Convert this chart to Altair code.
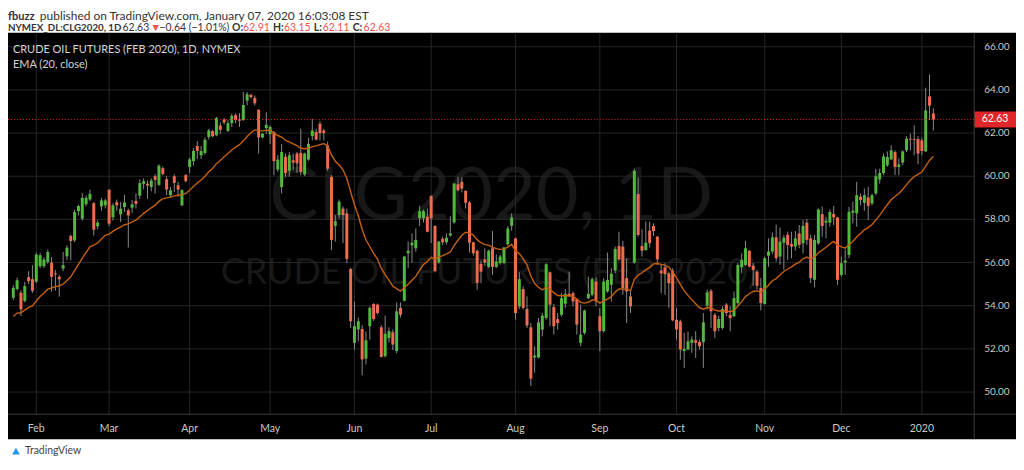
import altair as alt
import pandas as pd

# ---------------- data ----------------
OPEN = [54.37, 54.77, 54.60, 54.22, 55.32, 55.23,
        55.11, 55.83, 55.83, 56.03, 56.00, 55.50, 55.34, 55.72, 56.29, 57.23, 57.03, 58.38, 58.03, 58.70,
        58.92, 58.75, 57.68, 58.60, 58.65,
        59.37, 58.10, 58.80, 58.23, 58.57, 58.42, 58.54, 58.86, 59.10, 59.65, 59.65, 59.50, 60.00, 59.60,
        60.37, 59.86, 59.12, 60.00, 59.58, 58.65, 60.05,
        60.43, 60.70, 61.40, 60.97, 61.08, 61.82, 62.09, 61.90, 62.35, 62.63, 62.10, 62.46, 62.83, 62.63,
        62.60, 63.50, 63.77, 63.63, 63.08, 61.80, 62.23,
        61.95, 62.05, 60.31, 59.50, 60.90, 60.25, 60.74, 61.05, 61.08, 60.08, 60.77, 61.86, 62.05, 62.43,
        62.12, 61.43, 59.97, 57.70, 58.20, 58.50, 58.28, 55.70,
        52.28, 52.90, 52.92, 51.55, 53.05, 54.08, 54.05, 53.00, 51.66, 52.50, 52.77, 51.90, 53.90, 54.23,
        56.43, 56.80, 56.66, 58.05, 58.05, 58.12,
        59.08, 57.70, 56.00, 57.10, 56.94, 57.25, 57.86, 59.63, 59.74, 59.32, 58.78, 56.94, 56.55, 55.94,
        56.15, 55.80, 56.66, 55.80, 55.97, 55.97, 56.85, 57.70,
        57.12, 53.97, 54.77, 53.85, 53.00, 51.60, 51.60, 52.89, 53.43, 55.55, 53.94, 53.38, 53.58, 54.09,
        54.55, 54.58, 54.31, 52.28, 52.74, 54.35, 54.51, 55.12,
        53.51, 52.82, 54.66, 54.97, 55.63, 56.77, 56.74, 55.28, 54.43, 56.00, 59.17, 56.77, 56.58, 57.48,
        57.69, 57.20, 55.63, 55.78, 55.50, 55.63,
        53.35, 53.28, 51.90, 51.97, 52.28, 52.40, 52.32, 52.31, 54.00, 54.69, 53.58, 52.97, 52.97, 54.05,
        53.58, 53.51, 54.12, 55.78, 55.89, 56.54, 55.85, 55.58, 54.82,
        54.08, 56.32, 56.51, 57.17, 56.28, 56.92, 57.28, 56.86, 56.74, 57.35, 56.89, 57.85, 57.12, 55.20,
        56.89, 58.25, 57.85, 57.85, 58.25, 58.09,
        55.43, 56.00, 56.35, 58.31, 58.28, 59.05, 58.77, 59.02, 58.74, 59.20, 59.85, 60.15, 60.51, 60.78,
        61.12, 60.43, 60.63, 61.20, 61.74, 61.72, 61.72,
        61.66, 61.15, 63.70, 62.91]

HIGH = [54.95, 55.30, 54.70, 55.10, 55.60, 55.88,
        56.46, 56.45, 56.25, 56.60, 56.26, 55.65, 55.42, 56.49, 56.80, 57.30, 58.45, 58.68, 59.23, 59.10,
        59.38, 58.80, 57.95, 59.00, 58.95,
        59.40, 58.75, 58.92, 58.80, 59.14, 58.50, 58.90, 59.20, 59.85, 59.90, 59.80, 59.90, 60.10, 60.55,
        60.45, 60.00, 59.50, 60.09, 59.74, 59.40, 60.10,
        60.86, 61.30, 61.63, 61.40, 61.80, 62.20, 62.15, 62.75, 62.50, 62.70, 62.60, 62.90, 62.92, 62.92,
        63.90, 63.90, 63.82, 63.74, 63.10, 62.00, 62.97,
        62.35, 62.10, 60.97, 61.50, 61.05, 61.12, 61.05, 61.12, 62.20, 61.10, 61.78, 62.66, 62.20, 62.55,
        62.20, 61.60, 60.05, 58.20, 58.92, 58.60, 58.50, 55.75,
        54.20, 53.45, 53.10, 52.80, 53.97, 54.12, 54.10, 53.10, 53.54, 53.00, 52.90, 54.15, 54.15, 56.30,
        56.97, 57.35, 57.58, 58.63, 58.45, 58.50,
        59.12, 57.72, 57.00, 57.20, 57.35, 58.15, 59.68, 59.97, 59.95, 59.35, 58.85, 56.97, 56.60, 56.10,
        56.66, 56.60, 57.46, 56.37, 56.37, 56.72, 57.70, 58.28,
        57.15, 55.55, 54.90, 54.43, 53.20, 52.12, 53.43, 53.66, 55.97, 55.58, 54.09, 53.66, 54.58, 54.77,
        55.58, 54.66, 54.35, 54.05, 53.82, 55.35, 55.31, 55.31,
        53.90, 55.28, 56.46, 55.74, 56.74, 57.43, 57.00, 56.20, 54.74, 60.35, 59.94, 57.54, 57.90, 57.90,
        57.82, 57.23, 55.90, 55.97, 55.58, 55.74,
        53.90, 53.35, 52.74, 52.80, 52.58, 52.82, 52.43, 53.66, 54.74, 54.77, 53.66, 53.54, 53.97, 54.12,
        53.97, 54.66, 55.97, 56.43, 57.00, 56.58, 55.97, 55.66, 55.28,
        56.28, 57.12, 57.40, 57.75, 57.62, 57.28, 57.43, 57.43, 57.46, 57.74, 57.97, 58.02, 57.28, 57.28,
        58.51, 58.59, 58.12, 58.46, 58.62, 58.12,
        56.28, 56.60, 58.58, 58.82, 59.74, 59.20, 59.43, 59.51, 59.20, 60.35, 60.35, 61.05, 61.15, 61.43,
        61.20, 60.82, 61.20, 61.85, 61.97, 62.35, 61.85,
        61.78, 64.10, 64.72, 63.15]

LOW = [54.25, 54.70, 53.52, 54.15, 55.00, 54.60,
       55.05, 55.75, 55.75, 55.95, 54.65, 54.70, 54.42, 55.60, 56.10, 56.10, 56.95, 58.18, 57.95, 58.60,
       58.85, 57.25, 57.55, 58.40, 58.50,
       57.68, 57.95, 58.40, 57.88, 58.35, 56.70, 58.30, 58.50, 58.95, 59.40, 58.95, 59.30, 59.20, 59.55,
       60.05, 59.12, 59.00, 59.28, 59.05, 58.62, 59.72,
       60.15, 60.50, 60.80, 60.80, 61.00, 61.70, 61.80, 61.85, 61.95, 62.40, 62.05, 62.28, 62.45, 62.28,
       62.57, 63.28, 63.60, 63.28, 61.05, 61.75, 61.97,
       61.50, 60.05, 60.20, 59.20, 59.97, 59.97, 60.30, 60.15, 60.05, 60.00, 60.72, 61.66, 61.66, 61.66,
       61.66, 60.25, 56.58, 56.97, 58.05, 56.90, 55.97, 52.97,
       51.97, 52.35, 50.77, 51.28, 52.43, 53.30, 53.60, 51.60, 51.60, 52.30, 51.95, 51.80, 53.45, 54.20,
       55.74, 56.00, 56.50, 57.70, 57.85, 57.40,
       56.90, 55.55, 55.95, 56.80, 56.85, 57.20, 57.80, 59.30, 59.25, 58.50, 56.46, 56.32, 54.74, 55.05,
       55.85, 55.75, 55.43, 55.75, 55.90, 55.95, 56.75, 57.48,
       53.35, 53.85, 53.82, 52.97, 50.28, 50.90, 51.55, 52.58, 53.35, 53.05, 52.66, 52.89, 53.50, 53.90,
       54.45, 53.97, 52.66, 52.12, 52.66, 54.30, 54.43, 53.97,
       51.90, 52.75, 54.60, 54.20, 55.50, 56.10, 54.51, 53.20, 53.66, 55.95, 57.20, 56.28, 56.55, 56.70,
       57.23, 55.90, 54.58, 54.50, 53.90, 53.28,
       52.43, 51.50, 51.12, 51.95, 51.82, 51.58, 51.97, 51.12, 53.82, 52.97, 52.51, 52.82, 52.89, 53.51,
       52.82, 53.48, 54.05, 55.50, 55.85, 55.78, 54.92, 54.74, 53.78,
       54.05, 55.80, 56.40, 56.05, 55.90, 55.66, 56.12, 56.20, 56.55, 56.66, 56.43, 56.82, 55.05, 54.85,
       56.82, 57.20, 57.12, 57.66, 57.74, 54.97,
       55.35, 55.43, 56.20, 57.82, 57.66, 58.65, 58.40, 57.97, 58.66, 59.12, 59.66, 60.05, 60.43, 60.74,
       60.05, 60.05, 60.51, 61.12, 61.20, 60.97, 60.55,
       60.97, 61.12, 62.60, 62.11]

CLOSE = [54.83, 55.18, 53.83, 54.91, 55.14, 54.69,
         56.37, 56.34, 56.14, 56.49, 55.34, 55.45, 55.22, 55.88, 56.69, 57.00, 58.34, 58.62, 59.00, 59.00,
         59.18, 57.52, 57.85, 58.88, 58.88,
         57.80, 58.65, 58.65, 58.49, 58.78, 58.18, 58.70, 58.72, 59.68, 59.77, 59.57, 59.80, 59.83, 60.49,
         60.10, 59.38, 59.35, 59.69, 59.38, 59.35, 59.77,
         60.78, 61.17, 61.17, 61.17, 61.69, 62.12, 61.86, 62.70, 62.15, 62.49, 62.46, 62.80, 62.60, 62.57,
         63.30, 63.80, 63.66, 63.38, 61.80, 61.97, 62.38,
         62.28, 60.70, 60.77, 61.12, 60.15, 60.97, 60.63, 60.60, 60.20, 61.05, 61.50, 62.12, 61.70, 62.00,
         62.00, 60.35, 57.05, 57.92, 58.82, 58.20, 56.17, 53.28,
         53.05, 53.28, 51.51, 52.40, 53.90, 53.38, 53.66, 51.63, 52.70, 52.82, 52.20, 53.74, 53.58, 56.28,
         56.55, 56.92, 57.05, 58.38, 58.38, 57.43,
         58.05, 55.60, 56.97, 56.94, 57.15, 57.35, 59.66, 59.35, 59.43, 58.77, 56.92, 56.43, 55.05, 55.58,
         56.00, 56.55, 55.80, 56.05, 56.28, 56.70, 57.58, 58.09,
         53.66, 55.23, 53.90, 53.08, 50.62, 51.69, 53.23, 53.54, 55.92, 54.05, 53.05, 53.20, 54.35, 54.55,
         54.43, 54.20, 53.12, 52.66, 53.78, 54.55, 55.23, 54.20,
         52.82, 55.12, 55.20, 55.48, 56.63, 56.15, 54.82, 54.66, 53.97, 60.25, 57.28, 56.55, 56.92, 56.90,
         57.46, 56.15, 55.50, 55.46, 55.05, 53.32,
         52.90, 51.97, 52.00, 52.35, 52.43, 52.28, 52.12, 53.23, 54.62, 53.74, 52.82, 53.38, 53.85, 53.66,
         53.43, 54.35, 55.89, 56.12, 56.66, 55.81, 55.66, 54.92, 54.12,
         56.20, 56.51, 57.17, 56.20, 56.97, 57.15, 56.82, 56.74, 57.12, 56.82, 57.70, 57.05, 55.28, 57.05,
         58.46, 57.69, 57.94, 58.34, 58.09, 55.20,
         55.97, 56.09, 58.35, 58.40, 59.12, 58.90, 59.12, 58.63, 59.12, 60.00, 60.15, 60.92, 60.89, 61.20,
         60.43, 60.55, 61.15, 61.74, 61.70, 61.68, 61.05,
         61.17, 63.05, 63.27, 62.63]

MONTH_LABELS = ["Feb", "Mar", "Apr", "May", "Jun", "Jul", "Aug", "Sep", "Oct", "Nov", "Dec", "2020"]
MONTH_START = [6, 25, 46, 67, 89, 109, 131, 153, 173, 196, 216, 237]   # bar index of first session
PRICE_TICKS = [50, 52, 54, 56, 58, 60, 62, 64, 66]
EMA_LENGTH = 20
EMA_FIRST = 53.5        # EMA value at the first visible bar

# ---------------- derived ----------------
alpha = 2.0 / (EMA_LENGTH + 1)
ema = [EMA_FIRST]
for c in CLOSE[1:]:
    ema.append(ema[-1] + alpha * (c - ema[-1]))

n = len(CLOSE)
df = pd.DataFrame({
    "i": list(range(n)), "o": OPEN, "h": HIGH, "l": LOW, "c": CLOSE, "ema": ema,
    "up": [c >= o for o, c in zip(OPEN, CLOSE)],
})
last = CLOSE[-1]
prev = CLOSE[-2]
chg = last - prev
pct = chg / prev * 100

# ---------------- styling ----------------
FONT = "Lato"
UP = "#53b83e"
DOWN = "#ee6c50"
WICK = "#8a8a8a"
GRID = "#262626"
SEP = "#3a3a3a"
AXIS_TXT = "#c9c9c9"
PRICE_RED = "#e0262b"

W, H = 970, 382
spacing = 3.889
X0 = (8 - 8.3) / spacing
X1 = (978 - 8.3) / spacing
Y1 = 66 + 13 / 21.667
Y0 = 66 - (415 - 46) / 21.667

xs = alt.Scale(domain=[X0, X1], nice=False, zero=False)
ys = alt.Scale(domain=[Y0, Y1], nice=False, zero=False)

one = pd.DataFrame({"a": [0]})

panel = alt.Chart(one).mark_rect(color="#000000").encode(
    x=alt.value(0), x2=alt.value(1012), y=alt.value(-1), y2=alt.value(407))

wm1 = alt.Chart(one).mark_text(text="CLG2020, 1D", font=FONT, fontSize=74, color="#181818",
                               align="center", baseline="alphabetic").encode(
    x=alt.value(485), y=alt.value(187))
wm2 = alt.Chart(one).mark_text(text="CRUDE OIL FUTURES (FEB 2020)", font=FONT, fontSize=36,
                               color="#181818", align="center", baseline="alphabetic").encode(
    x=alt.value(483), y=alt.value(251))

grid_h = alt.Chart(pd.DataFrame({"p": PRICE_TICKS})).mark_rule(color=GRID, strokeWidth=1).encode(
    y=alt.Y("p:Q", scale=ys, axis=None), x=alt.value(0), x2=alt.value(W))
grid_v = alt.Chart(pd.DataFrame({"m": MONTH_START})).mark_rule(color=GRID, strokeWidth=1).encode(
    x=alt.X("m:Q", scale=xs, axis=None), y=alt.value(-1), y2=alt.value(H))

wicks = alt.Chart(df).mark_rule(color=WICK, strokeWidth=1).encode(
    x=alt.X("i:Q", scale=xs, axis=None),
    y=alt.Y("l:Q", scale=ys, axis=None),
    y2="h:Q")

bodies = alt.Chart(df).mark_bar(size=3).encode(
    x=alt.X("i:Q", scale=xs, axis=None),
    y=alt.Y("o:Q", scale=ys, axis=None),
    y2="c:Q",
    color=alt.condition("datum.up", alt.value(UP), alt.value(DOWN)))

ema_line = alt.Chart(df).mark_line(color="#c4600f", strokeWidth=1.4).encode(
    x=alt.X("i:Q", scale=xs, axis=None), y=alt.Y("ema:Q", scale=ys, axis=None))

pdf = pd.DataFrame({"p": [last]})
price_line = alt.Chart(pdf).mark_rule(color=PRICE_RED, strokeDash=[1, 2], strokeWidth=1).encode(
    y=alt.Y("p:Q", scale=ys, axis=None), x=alt.value(0), x2=alt.value(W))
price_box = alt.Chart(pdf).mark_rule(color=PRICE_RED, strokeWidth=16).encode(
    y=alt.Y("p:Q", scale=ys, axis=None), x=alt.value(W), x2=alt.value(1012))
price_txt = alt.Chart(pdf).mark_text(color="white", font=FONT, fontSize=10.5, align="center",
                                     baseline="middle").encode(
    y=alt.Y("p:Q", scale=ys, axis=None), x=alt.value(991), text=alt.Text("p:Q", format=".2f"))

# axis labels (through the scales)
month_lbl = alt.Chart(pd.DataFrame({"m": MONTH_START, "t": MONTH_LABELS})).mark_text(
    font=FONT, fontSize=10.5, color=AXIS_TXT, align="center", baseline="middle").encode(
    x=alt.X("m:Q", scale=xs, axis=None), y=alt.value(H + 15), text="t:N")
price_lbl = alt.Chart(pd.DataFrame({"p": PRICE_TICKS})).mark_text(
    font=FONT, fontSize=10, color=AXIS_TXT, align="left", baseline="middle").encode(
    y=alt.Y("p:Q", scale=ys, axis=None), x=alt.value(980), text=alt.Text("p:Q", format=".2f"))

sep_v = alt.Chart(one).mark_rule(color=SEP).encode(x=alt.value(W), y=alt.value(-1), y2=alt.value(407))
sep_h = alt.Chart(one).mark_rule(color=SEP).encode(x=alt.value(0), x2=alt.value(1012), y=alt.value(H))

legend1 = alt.Chart(one).mark_text(text="CRUDE OIL FUTURES (FEB 2020), 1D, NYMEX", font=FONT,
                                   fontSize=11, color="#d4d4d4", align="left").encode(
    x=alt.value(5), y=alt.value(16))
legend2 = alt.Chart(one).mark_text(text="EMA (20, close)", font=FONT, fontSize=11,
                                   color="#d4d4d4", align="left").encode(
    x=alt.value(5), y=alt.value(31))


def hdr(text, x, y, size=10.5, color="#333333", weight="normal"):
    return alt.Chart(one).mark_text(text=text, font=FONT, fontSize=size, color=color, align="left",
                                    baseline="alphabetic", fontWeight=weight).encode(
        x=alt.value(x - 8), y=alt.value(y - 33))


def m(v):
    return ("%.2f" % v).replace("-", "\u2212")


RED_T = "#ef5350"
L1, L2 = 19, 30.5
header = [
    hdr("fbuzz", 8, L1, size=11, weight="bold"),
    hdr("published on TradingView.com, January 07, 2020 16:03:08 EST", 40, L1, size=12),
    hdr("NYMEX_DL:CLG2020, 1D", 8, L2, size=9.8, weight="bold"),
    hdr(m(last), 123, L2),
    hdr("\u25BC", 151, L2, color=RED_T),
    hdr("%s (%s%%)" % (m(chg), m(pct)), 160, L2),
    hdr("O:", 233, L2, weight="bold"), hdr(m(OPEN[-1]), 244, L2, color=RED_T),
    hdr("H:", 274, L2, weight="bold"), hdr(m(HIGH[-1]), 285, L2, color=RED_T),
    hdr("L:", 315, L2, weight="bold"), hdr(m(LOW[-1]), 324, L2, color=RED_T),
    hdr("C:", 354, L2, weight="bold"), hdr(m(CLOSE[-1]), 365, L2, color=RED_T),
]

logo_icon = alt.Chart(one).mark_point(shape="triangle-up", filled=True, size=60, color="#2196f3",
                                      opacity=1).encode(x=alt.value(8), y=alt.value(419))
logo_txt = alt.Chart(one).mark_text(text="TradingView", font=FONT, fontSize=10.5, color="#444444",
                                    align="left", baseline="middle").encode(
    x=alt.value(17), y=alt.value(419))

chart = alt.layer(
    panel, wm1, wm2, grid_h, grid_v, wicks, bodies, ema_line, price_line, price_box, price_txt,
    month_lbl, price_lbl, sep_v, sep_h, legend1, legend2, *header, logo_icon, logo_txt
).properties(
    width=W, height=H,
    padding={"left": 0, "top": 25, "right": 42, "bottom": 43},
    autosize=alt.AutoSizeParams(type="none"),
    background="white",
).configure_view(stroke=None)

chart.save("out.html", embed_options={"renderer": "svg", "actions": False})
